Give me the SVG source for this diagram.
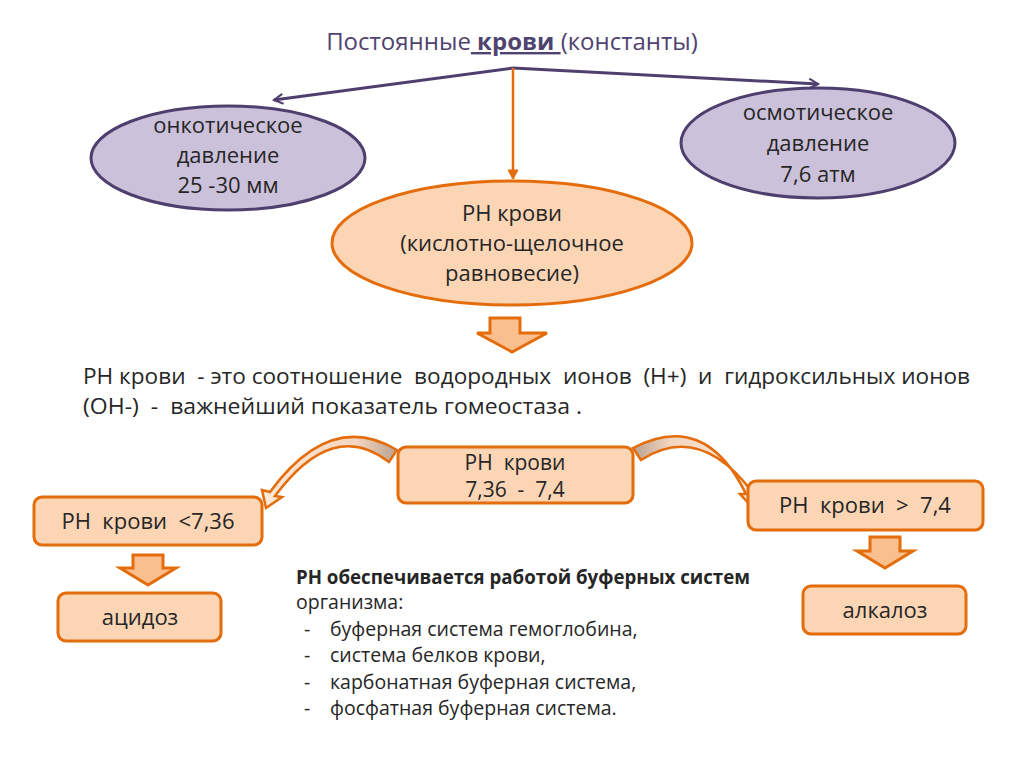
<svg xmlns="http://www.w3.org/2000/svg" width="1024" height="767" viewBox="0 0 1024 767">
<defs>
<style>
text{font-family:"Open Sans","Noto Sans","DejaVu Sans",sans-serif;fill:#262626}
.t{font-size:22px;text-anchor:middle}
.tb{font-size:21px;text-anchor:middle}
.title{font-size:24px;fill:#4f4370;text-anchor:middle}
.pur{fill:#ccc1da;stroke:#4f3f6e;stroke-width:3}
.org{fill:#fcd5b5;stroke:#e46c0a;stroke-width:3}
.blk{fill:#fabf8f;stroke:#e46c0a;stroke-width:3;stroke-linejoin:miter}
.curv{stroke:#e46c0a;stroke-width:2.5;stroke-linejoin:miter}
.body{font-size:19.5px}
</style>
<linearGradient id="gl" x1="0" y1="0" x2="1" y2="0">
<stop offset="0" stop-color="#fde9d9"/>
<stop offset="0.7" stop-color="#f3d6c0"/>
<stop offset="1" stop-color="#b8a090"/>
</linearGradient>
<linearGradient id="gr" x1="0" y1="0" x2="1" y2="0">
<stop offset="0" stop-color="#b8a090"/>
<stop offset="0.3" stop-color="#f3d6c0"/>
<stop offset="1" stop-color="#fde9d9"/>
</linearGradient>
<marker id="ap" viewBox="0 0 12 12" refX="10" refY="6" markerWidth="12" markerHeight="12" markerUnits="userSpaceOnUse" orient="auto">
<path d="M1,1 L10,6 L1,11" fill="none" stroke="#4f3f6e" stroke-width="2"/>
</marker>
<marker id="ao" viewBox="0 0 12 12" refX="10" refY="6" markerWidth="12" markerHeight="12" markerUnits="userSpaceOnUse" orient="auto">
<path d="M1,1 L10,6 L1,11 Z" fill="#e46c0a" stroke="#e46c0a" stroke-width="1"/>
</marker>
</defs>
<rect width="1024" height="767" fill="#ffffff"/>

<g id="title">
<text class="title" x="512" y="50">Постоянные<tspan font-weight="bold" text-decoration="underline"> крови </tspan>(константы)</text>
</g>

<g id="connectors">
<line x1="513" y1="68" x2="274" y2="100" stroke="#4f3f6e" stroke-width="3" marker-end="url(#ap)"/>
<line x1="513" y1="68" x2="818" y2="84" stroke="#4f3f6e" stroke-width="3" marker-end="url(#ap)"/>
<line x1="513" y1="68" x2="513" y2="179" stroke="#e46c0a" stroke-width="2.5" marker-end="url(#ao)"/>
<path class="blk" d="M490,318 L520,318 L520,333 L547,333 L512,352 L477,333 L490,333 Z"/>
<path class="curv" fill="url(#gl)" d="M397,450 Q330,410 270,492 L262,490 L266,508 L282,497 L275,496 Q333,418 389,462 Z"/>
<path class="curv" fill="url(#gr)" d="M633,448 Q705,410 746,494 L740,494 L752,507 L759,490 L753,493 Q700,422 641,460 Z"/>
<path class="blk" d="M133,555 L163,555 L163,568 L176,568 L148,585 L120,568 L133,568 Z"/>
<path class="blk" d="M870,537 L900,537 L900,551 L913,551 L885,568 L857,551 L870,551 Z"/>
</g>

<g id="oncotic">
<ellipse class="pur" cx="228" cy="158" rx="137" ry="52"/>
<text class="t" x="228" y="133">онкотическое</text>
<text class="t" x="228" y="163">давление</text>
<text class="t" x="228" y="193">25 -30 мм</text>
</g>

<g id="osmotic">
<ellipse class="pur" cx="818" cy="143" rx="137" ry="55"/>
<text class="t" x="818" y="120">осмотическое</text>
<text class="t" x="818" y="151">давление</text>
<text class="t" x="818" y="182">7,6 атм</text>
</g>

<g id="ph-main">
<ellipse class="org" cx="512" cy="243" rx="180" ry="62"/>
<text class="t" x="512" y="221">РН крови</text>
<text class="t" x="512" y="251">(кислотно-щелочное</text>
<text class="t" x="512" y="281">равновесие)</text>
</g>

<g id="definition">
<text font-size="22" x="83" y="384" textLength="887" lengthAdjust="spacingAndGlyphs" xml:space="preserve">РН крови  - это соотношение  водородных  ионов  (Н+)  и  гидроксильных ионов</text>
<text font-size="22" x="83" y="414" textLength="499" lengthAdjust="spacingAndGlyphs" xml:space="preserve">(ОН-)  -  важнейший показатель гомеостаза .</text>
</g>

<g id="ph-normal">
<rect class="org" x="398" y="447" width="235" height="56" rx="8"/>
<text class="tb" x="515" y="470" xml:space="preserve">РН  крови</text>
<text class="tb" x="515" y="497" xml:space="preserve">7,36  -  7,4</text>
</g>

<g id="ph-low">
<rect class="org" x="34" y="497" width="228" height="48" rx="8"/>
<text class="t" x="148" y="529" xml:space="preserve">РН  крови  &lt;7,36</text>
</g>

<g id="ph-high">
<rect class="org" x="748" y="481" width="235" height="49" rx="8"/>
<text class="t" x="865" y="513" xml:space="preserve">РН  крови  &gt;  7,4</text>
</g>

<g id="acidosis">
<rect class="org" x="58" y="593" width="163" height="48" rx="8"/>
<text class="t" x="140" y="625">ацидоз</text>
</g>

<g id="alkalosis">
<rect class="org" x="803" y="586" width="163" height="48" rx="8"/>
<text class="t" x="885" y="618">алкалоз</text>
</g>

<g id="buffers">
<text class="body" x="296" y="584" font-weight="bold" textLength="454" lengthAdjust="spacingAndGlyphs">РН обеспечивается работой буферных систем</text>
<text class="body" x="296" y="609">организма:</text>
<text class="body" x="304" y="636">-</text>
<text class="body" x="330" y="636">буферная система гемоглобина,</text>
<text class="body" x="304" y="662">-</text>
<text class="body" x="330" y="662">система белков крови,</text>
<text class="body" x="304" y="689">-</text>
<text class="body" x="330" y="689">карбонатная буферная система,</text>
<text class="body" x="304" y="715">-</text>
<text class="body" x="330" y="715">фосфатная буферная система.</text>
</g>
</svg>
